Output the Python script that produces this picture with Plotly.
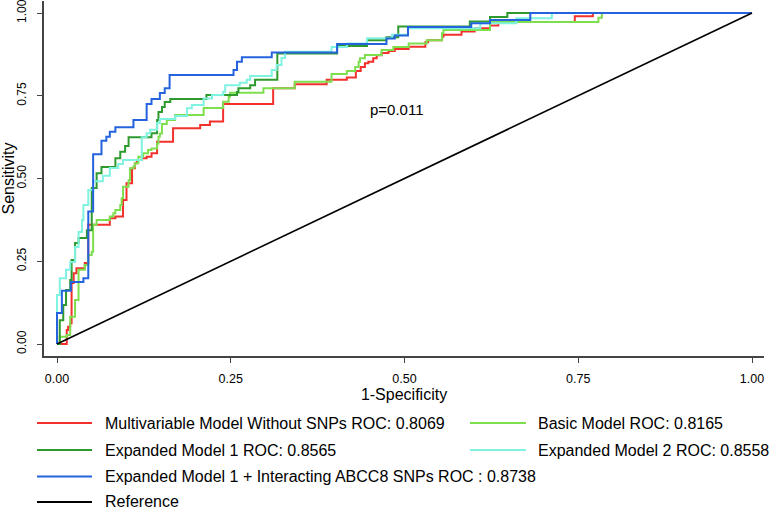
import plotly.graph_objects as go

# ---------------- data ----------------
series_names = [
    "Multivariable Model Without SNPs ROC: 0.8069",
    "Basic Model ROC: 0.8165",
    "Expanded Model 1 ROC: 0.8565",
    "Expanded Model 2 ROC: 0.8558",
    "Expanded Model 1 + Interacting ABCC8 SNPs ROC : 0.8738",
]
reference_name = "Reference"

fpr_multivariable = [0, 0.014, 0.014, 0.016, 0.019, 0.021, 0.024, 0.028, 0.040, 0.045, 0.076, 0.084,
                     0.095, 0.100, 0.108, 0.112, 0.115, 0.122, 0.129, 0.136, 0.144, 0.167, 0.206,
                     0.220, 0.239, 0.311, 0.342, 0.388, 0.417, 0.430, 0.437, 0.443, 0.448, 0.455,
                     0.460, 0.467, 0.477, 0.486, 0.506, 0.530, 0.534, 0.554, 0.556, 0.582, 0.601,
                     0.623, 0.635, 0.745, 0.771, 1.0]
tpr_multivariable = [0, 0, 0.042, 0.052, 0.063, 0.184, 0.214, 0.229, 0.245, 0.360, 0.380, 0.385,
                     0.435, 0.486, 0.531, 0.546, 0.556, 0.561, 0.566, 0.576, 0.611, 0.652, 0.662,
                     0.672, 0.725, 0.773, 0.785, 0.798, 0.805, 0.825, 0.837, 0.848, 0.853, 0.863,
                     0.872, 0.879, 0.885, 0.891, 0.898, 0.912, 0.918, 0.928, 0.934, 0.944, 0.954,
                     0.962, 0.973, 0.990, 1.0, 1.0]

fpr_basic = [0, 0.004, 0.014, 0.019, 0.026, 0.031, 0.040, 0.045, 0.050, 0.052, 0.057, 0.076,
             0.081, 0.084, 0.091, 0.093, 0.095, 0.103, 0.105, 0.110, 0.112, 0.117, 0.124, 0.131,
             0.136, 0.144, 0.146, 0.148, 0.151, 0.158, 0.170, 0.211, 0.239, 0.247, 0.249, 0.297,
             0.342, 0.395, 0.417, 0.429, 0.434, 0.436, 0.443, 0.467, 0.484, 0.506, 0.532, 0.554,
             0.556, 0.623, 0.779, 0.784, 1.0]
tpr_basic = [0, 0.022, 0.027, 0.082, 0.133, 0.224, 0.239, 0.269, 0.279, 0.360, 0.375, 0.385,
             0.395, 0.405, 0.420, 0.440, 0.475, 0.495, 0.531, 0.536, 0.546, 0.566, 0.576, 0.586,
             0.591, 0.606, 0.626, 0.636, 0.665, 0.677, 0.692, 0.713, 0.732, 0.747, 0.759, 0.773,
             0.792, 0.816, 0.825, 0.837, 0.853, 0.863, 0.873, 0.888, 0.897, 0.908, 0.918, 0.939,
             0.949, 0.973, 0.986, 1.0, 1.0]

fpr_expanded1 = [0, 0.004, 0.009, 0.013, 0.019, 0.021, 0.026, 0.031, 0.043, 0.050, 0.057, 0.064,
                 0.084, 0.091, 0.098, 0.103, 0.136, 0.144, 0.146, 0.151, 0.155, 0.163, 0.215,
                 0.259, 0.261, 0.278, 0.285, 0.317, 0.403, 0.446, 0.474, 0.491, 0.594, 0.623,
                 0.648, 1.0]
tpr_expanded1 = [0, 0.072, 0.118, 0.163, 0.193, 0.254, 0.305, 0.320, 0.344, 0.471, 0.516, 0.535,
                 0.561, 0.581, 0.598, 0.625, 0.637, 0.677, 0.701, 0.716, 0.731, 0.740, 0.752,
                 0.761, 0.773, 0.782, 0.798, 0.878, 0.900, 0.918, 0.927, 0.959, 0.974, 0.988,
                 1.0, 1.0]

fpr_expanded2 = [0, 0, 0.004, 0.013, 0.019, 0.026, 0.031, 0.036, 0.038, 0.045, 0.052, 0.066,
                 0.076, 0.088, 0.095, 0.122, 0.129, 0.134, 0.144, 0.148, 0.170, 0.187, 0.194,
                 0.211, 0.223, 0.239, 0.242, 0.263, 0.273, 0.278, 0.309, 0.316, 0.323, 0.328,
                 0.395, 0.417, 0.446, 0.482, 0.505, 0.609, 0.661, 0.712, 1.0]
tpr_expanded2 = [0, 0.148, 0.199, 0.224, 0.248, 0.293, 0.338, 0.375, 0.420, 0.465, 0.492, 0.508,
                 0.532, 0.544, 0.556, 0.625, 0.637, 0.647, 0.668, 0.680, 0.689, 0.712, 0.722,
                 0.742, 0.752, 0.762, 0.782, 0.789, 0.798, 0.810, 0.828, 0.843, 0.864, 0.883,
                 0.897, 0.908, 0.924, 0.934, 0.954, 0.969, 0.984, 1.0, 1.0]

fpr_expanded1_abcc8 = [0, 0, 0.007, 0.020, 0.038, 0.045, 0.052, 0.064, 0.071, 0.076, 0.084, 0.110,
                       0.129, 0.136, 0.148, 0.155, 0.162, 0.254, 0.259, 0.266, 0.309, 0.403, 0.474,
                       0.486, 0.505, 0.596, 0.623, 0.681, 1.0]
tpr_expanded1_abcc8 = [0, 0.094, 0.161, 0.187, 0.199, 0.400, 0.573, 0.614, 0.626, 0.641, 0.655, 0.677,
                       0.725, 0.740, 0.758, 0.773, 0.813, 0.828, 0.853, 0.866, 0.881, 0.906, 0.923,
                       0.932, 0.958, 0.969, 0.979, 1.0, 1.0]

reference_x = [0, 1]
reference_y = [0, 1]

x_ticks = [0, 0.25, 0.5, 0.75, 1.0]
x_tick_labels = ["0.00", "0.25", "0.50", "0.75", "1.00"]
y_ticks = [0, 0.25, 0.5, 0.75, 1.0]
y_tick_labels = ["0.00", "0.25", "0.50", "0.75", "1.00"]

p_value_text = "p=0.011"

# ---------------- styling ----------------
colors = ["#F2302C", "#7EDF4E", "#2E9A2E", "#80F2E0", "#2563DE"]
FONT = "Liberation Sans, Arial, Helvetica, sans-serif"
W, H = 771, 511
ML, MR, MT, MB = 44, 7, 1, 155

series_x = [fpr_multivariable, fpr_basic, fpr_expanded1, fpr_expanded2, fpr_expanded1_abcc8]
series_y = [tpr_multivariable, tpr_basic, tpr_expanded1, tpr_expanded2, tpr_expanded1_abcc8]

fig = go.Figure()
for name, xs, ys, c in zip(series_names, series_x, series_y, colors):
    fig.add_trace(go.Scatter(x=xs, y=ys, mode="lines", name=name,
                             line=dict(color=c, width=2, shape="hv"), showlegend=False))
fig.add_trace(go.Scatter(x=reference_x, y=reference_y, mode="lines", name=reference_name,
                         line=dict(color="black", width=1.6), showlegend=False))

# ---------------- custom legend (2 columns) ----------------
plot_w = W - ML - MR
plot_h = H - MT - MB


def px_to_paper_x(px):
    return (px - ML) / plot_w


def py_to_paper_y(py):
    return (H - MB - py) / plot_h


legend_entries = list(zip(series_names, colors)) + [(reference_name, "black")]
slots = [(0, 0), (1, 0), (0, 1), (1, 1), (0, 2), (0, 3)]  # (column, row)
col_line = [(37, 92), (470, 526)]
col_text = [103, 536]
row_y = [423, 450, 476.5, 502]

shapes = []
annotations = []
for (label, c), (col, row) in zip(legend_entries, slots):
    yy = py_to_paper_y(row_y[row])
    shapes.append(dict(type="line", xref="paper", yref="paper",
                       x0=px_to_paper_x(col_line[col][0]), x1=px_to_paper_x(col_line[col][1]),
                       y0=yy, y1=yy, line=dict(color=c, width=2)))
    annotations.append(dict(text=label, xref="paper", yref="paper",
                            x=px_to_paper_x(col_text[col]), y=yy, xanchor="left", yanchor="middle",
                            showarrow=False, font=dict(family=FONT, size=16, color="black")))

annotations.append(dict(text=p_value_text, x=0.489, y=0.707, xref="x", yref="y",
                        showarrow=False, font=dict(family=FONT, size=15, color="black")))

x_lo = (ML - 57) / 695
x_hi = (W - MR - 57) / 695
y_lo = (344 - (H - MB)) / 331
y_hi = (344 - MT) / 331

fig.update_layout(
    width=W, height=H,
    margin=dict(l=ML, r=MR, t=MT, b=MB, pad=0, autoexpand=False),
    paper_bgcolor="white", plot_bgcolor="white",
    font=dict(family=FONT, color="black"),
    shapes=shapes, annotations=annotations,
    xaxis=dict(range=[x_lo, x_hi], tickvals=x_ticks, ticktext=x_tick_labels, automargin=False,
               showgrid=False, zeroline=False, showline=True, linecolor="#444", linewidth=1.5,
               ticks="outside", ticklen=5, tickcolor="#444", tickwidth=1.2, ticklabelstandoff=5,
               ticklabeloverflow="allow",
               tickfont=dict(size=12.5, family=FONT, color="black"),
               title=dict(text="1-Specificity", font=dict(size=16, family=FONT, color="black"), standoff=2)),
    yaxis=dict(range=[y_lo, y_hi], tickvals=y_ticks, ticktext=y_tick_labels, tickangle=-90, automargin=False,
               showgrid=False, zeroline=False, showline=True, linecolor="#444", linewidth=1.5,
               ticks="outside", ticklen=5, tickcolor="#444", tickwidth=1.2, ticklabelstandoff=6,
               ticklabeloverflow="allow",
               tickfont=dict(size=12, family=FONT, color="black"),
               title=dict(text="Sensitivity", font=dict(size=16, family=FONT, color="black"), standoff=3)),
)

# remove the browser's default 8px page margin so the figure sits at the window's origin
fig.write_html("out.html", config={"displayModeBar": False},
               post_script="document.body.style.margin='0px';")
